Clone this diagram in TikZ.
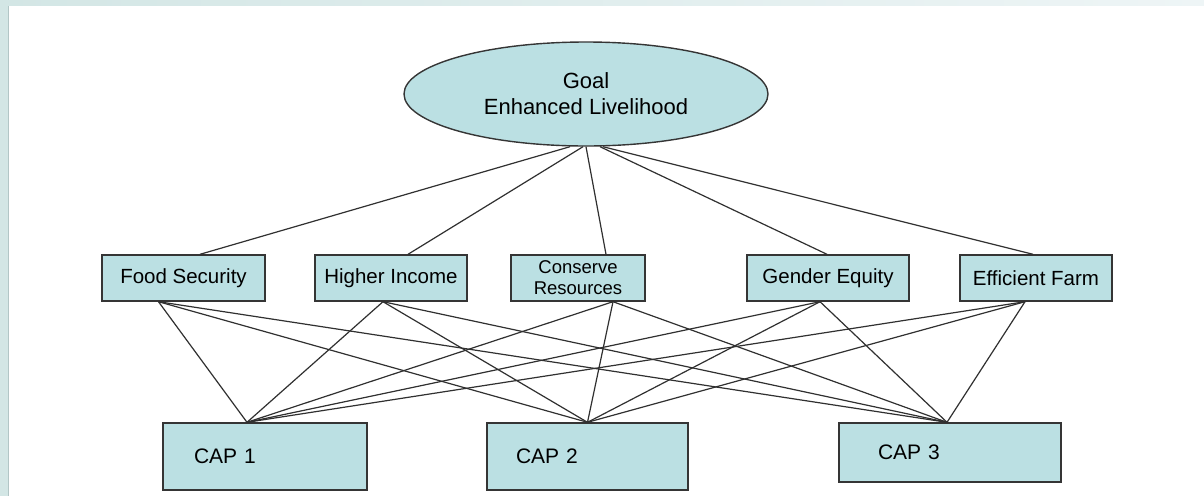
\documentclass[tikz,border=0pt]{standalone}
\usepackage{fontspec}
\setmainfont{Liberation Sans}
\usetikzlibrary{shapes.geometric}
\definecolor{boxfill}{HTML}{BBE0E3}
\definecolor{boxline}{HTML}{353535}
\definecolor{linkcol}{HTML}{303030}
\definecolor{bandA}{HTML}{D3E6E5}
\definecolor{bandB}{HTML}{EEF5F6}
\definecolor{bandedge}{HTML}{B2C6C6}
\tikzset{
  boxstyle/.style={draw=boxline, fill=boxfill, line width=1.4pt, rectangle, inner sep=0pt, minimum height=46pt},
  midtext/.style={font=\fontsize{20.5}{24}\selectfont},
  capbox/.style={draw=boxline, fill=boxfill, line width=1.4pt, rectangle, inner ysep=0pt, align=left, font=\fontsize{21}{24}\selectfont},
  goalstyle/.style={draw=boxline, fill=boxfill, line width=1.4pt, ellipse, inner sep=0pt, minimum width=364pt, minimum height=104pt, align=center, font=\fontsize{22}{26}\selectfont},
  link/.style={draw=linkcol, line width=1.2pt}
}
\begin{document}
\begin{tikzpicture}[x=1pt,y=-1pt]
\useasboundingbox (0,0) rectangle (1204,496);
% background band
\fill[bandA] (0,0) rectangle (1204,496);
\shade[left color=bandA, right color=bandB] (0,0) rectangle (1204,6);
\fill[white] (8,6) rectangle (1204,496);
\draw[bandedge, line width=1pt] (8.5,6) -- (8.5,496);

% goal
\node[goalstyle] (goal) at (586,94) {Goal\\Enhanced Livelihood};

% middle boxes
\node[boxstyle, midtext, minimum width=163pt] (fs) at (183.5,278) {Food Security};
\node[boxstyle, midtext, minimum width=152pt] (hi) at (391,278) {Higher Income};
\node[boxstyle, minimum width=134pt, align=center, font=\fontsize{18.5}{21}\selectfont] (cr) at (578,278) {Conserve\\Resources};
\node[boxstyle, midtext, minimum width=162pt] (ge) at (828,278) {Gender Equity};
\node[boxstyle, midtext, minimum width=152pt] (ef) at (1036,278) {Efficient Farm};

% CAP boxes
\node[capbox, inner xsep=31pt, text width=142pt, minimum height=67pt] (cap1) at (265,456.5) {CAP 1};
\node[capbox, inner xsep=29pt, text width=143pt, minimum height=67pt] (cap2) at (587.5,456.5) {CAP 2};
\node[capbox, inner xsep=39pt, text width=144pt, minimum height=59pt] (cap3) at (950,452.5) {CAP 3};

% anchor coordinates
\coordinate (g1) at ([xshift=-16pt]goal.south);
\coordinate (g2) at ([xshift=-3pt]goal.south);
\coordinate (g3) at ([xshift=0pt]goal.south);
\coordinate (g4) at ([xshift=14pt]goal.south);
\coordinate (g5) at ([xshift=17pt]goal.south);

\coordinate (fsT) at ([xshift=16.5pt]fs.north);
\coordinate (hiT) at ([xshift=17pt]hi.north);
\coordinate (crT) at ([xshift=28pt]cr.north);
\coordinate (geT) at ([xshift=-1pt]ge.north);
\coordinate (efT) at ([xshift=-3pt]ef.north);

\coordinate (fsB) at ([xshift=-25pt]fs.south);
\coordinate (hiB) at ([xshift=-8pt]hi.south);
\coordinate (crB) at ([xshift=35pt]cr.south);
\coordinate (geB) at ([xshift=-8pt]ge.south);
\coordinate (efB) at ([xshift=-11pt]ef.south);

\coordinate (c1T) at ([xshift=-18pt]cap1.north);
\coordinate (c2T) at ([xshift=0pt]cap2.north);
\coordinate (c3T) at ([xshift=-3pt]cap3.north);

% goal links
\draw[link] (g1) -- (fsT);
\draw[link] (g2) -- (hiT);
\draw[link] (g3) -- (crT);
\draw[link] (g4) -- (geT);
\draw[link] (g5) -- (efT);

% middle to CAP links
\foreach \m in {fsB,hiB,crB,geB,efB}{
  \foreach \c in {c1T,c2T,c3T}{
    \draw[link] (\m) -- (\c);
  }
}
\end{tikzpicture}
\end{document}
